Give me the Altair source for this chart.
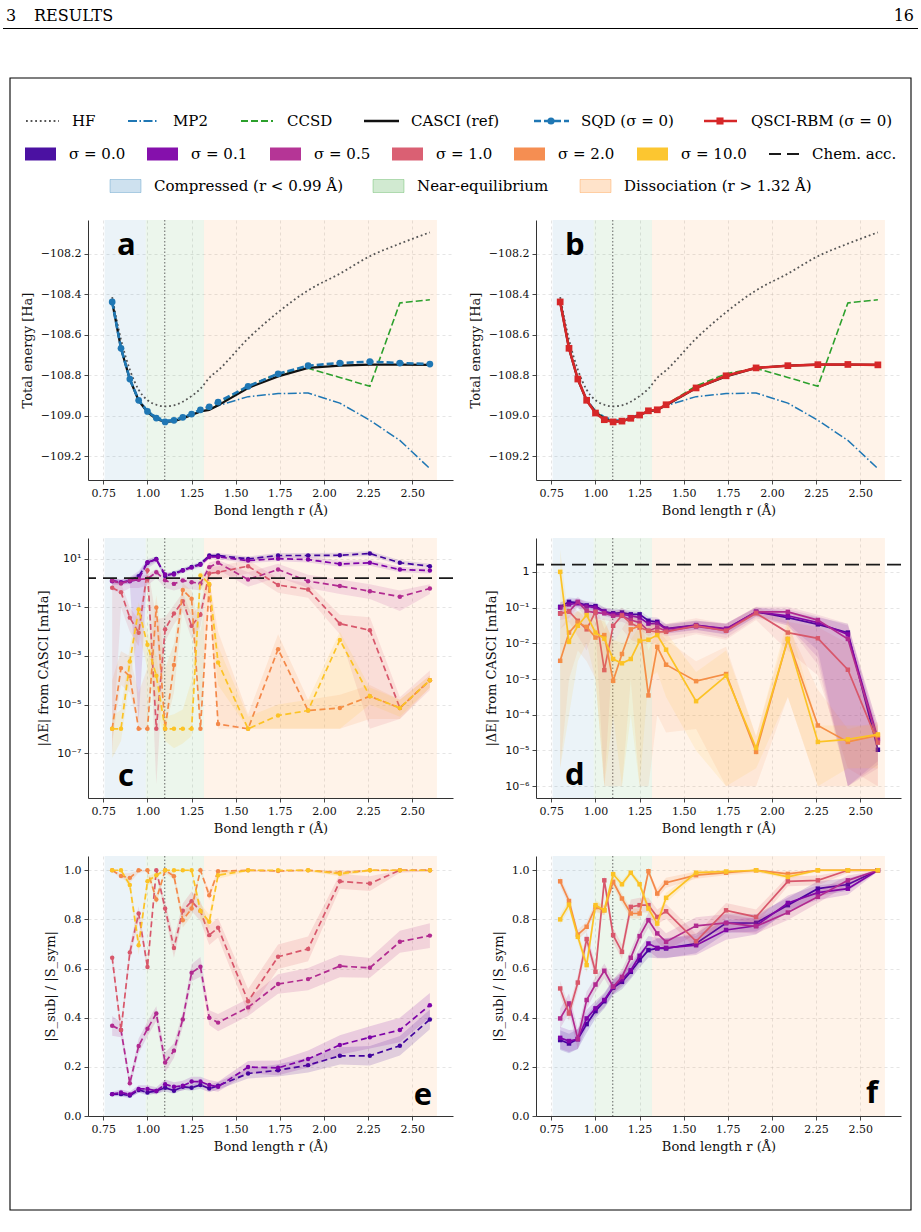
import altair as alt
import pandas as pd

# ---------------------------------------------------------------- data
R = [0.80, 0.85, 0.90, 0.95, 1.00, 1.05, 1.10, 1.15, 1.20, 1.25,
     1.30, 1.35, 1.40, 1.57, 1.74, 1.91, 2.09, 2.26, 2.43, 2.60]

# total energies [Ha]
E_HF = [-108.413, -108.623, -108.772, -108.871, -108.922, -108.945, -108.953, -108.948, -108.930, -108.902,
        -108.866, -108.812, -108.775, -108.618, -108.488, -108.380, -108.297, -108.211, -108.149, -108.093]
E_MP2 = [-108.430, -108.660, -108.815, -108.918, -108.975, -109.005, -109.020, -109.020, -109.007, -108.992,
         -108.978, -108.966, -108.950, -108.905, -108.890, -108.887, -108.937, -109.022, -109.121, -109.261]
E_CCSD = [-108.438, -108.667, -108.819, -108.924, -108.980, -109.012, -109.028, -109.024, -109.010, -108.994,
          -108.978, -108.968, -108.945, -108.852, -108.792, -108.765, -108.810, -108.854, -108.442, -108.426]
E_CASCI = [-108.438, -108.667, -108.820, -108.925, -108.982, -109.015, -109.030, -109.026, -109.013, -108.996,
           -108.978, -108.971, -108.948, -108.862, -108.805, -108.763, -108.752, -108.747, -108.747, -108.748]
E_SQD = [-108.437, -108.666, -108.818, -108.923, -108.978, -109.011, -109.030, -109.022, -109.007, -108.991,
         -108.970, -108.955, -108.932, -108.854, -108.792, -108.752, -108.739, -108.732, -108.739, -108.744]
E_QSCI = [-108.437, -108.666, -108.818, -108.923, -108.986, -109.019, -109.030, -109.026, -109.012, -108.996,
          -108.975, -108.970, -108.945, -108.862, -108.802, -108.763, -108.752, -108.747, -108.746, -108.748]

SIGMAS = ["0.0", "0.1", "0.5", "1.0", "2.0", "10.0"]
SIGMA_COLORS = ["#41049d", "#7e03a8", "#b12a90", "#d8576b", "#f48849", "#fcc325"]
CHEM_ACC = 1.6  # mHa

# SQD error vs CASCI, log10 of |dE| in mHa (mean, lower, upper)
C_MEAN = {
    "0.0": [0.11, 0.02, 0.11, 0.29, 0.84, 1.00, 0.29, 0.40, 0.53, 0.67, 0.79, 1.14, 1.14, 1.00, 1.14, 1.14, 1.15, 1.22, 0.84, 0.70],
    "0.1": [0.08, 0.04, 0.08, 0.15, 0.86, 0.97, 0.36, 0.36, 0.52, 0.64, 0.76, 1.08, 1.08, 0.93, 1.01, 0.97, 0.79, 0.84, 0.56, 0.52],
    "0.5": [0.11, -0.01, 0.11, 0.15, 0.18, 0.45, 0.12, -0.03, 0.11, 0.04, -0.01, 0.66, 0.84, 0.15, 0.56, 0.08, -0.12, -0.33, -0.56, -0.22],
    "1.0": [-0.19, -0.37, -1.42, -2.04, 0.53, -6.0, -1.90, -1.25, -0.74, -1.76, -1.30, 0.40, 0.45, 0.70, -0.08, -0.26, -1.67, -1.94, -5.14, -4.0],
    "2.0": [-6.0, -3.50, -3.84, -6.0, -6.0, -1.00, -6.0, -3.37, -0.28, -0.64, -6.0, -0.08, -5.80, -6.0, -2.72, -5.25, -5.14, -4.66, -5.14, -4.0],
    "10.0": [-6.0, -6.0, -3.23, -1.08, -2.54, -3.81, -6.0, -6.0, -6.0, -6.0, 0.32, -0.03, -3.27, -6.0, -5.45, -5.25, -2.34, -4.66, -5.14, -4.0],
}
C_LOW = {
    "0.0": [0.0, -0.08, 0.0, 0.15, 0.7, 0.9, 0.2, 0.3, 0.45, 0.58, 0.7, 1.05, 1.05, 0.92, 1.05, 1.05, 1.07, 1.12, 0.75, 0.62],
    "0.1": [-0.1, -0.05, -0.05, -5.7, 0.6, 0.85, 0.2, 0.25, 0.42, 0.55, 0.66, 0.98, 0.98, 0.82, 0.9, 0.85, 0.68, 0.72, 0.45, 0.4],
    "0.5": [-0.3, -0.4, -0.2, -0.2, -0.1, 0.2, -0.2, -0.3, -0.2, -0.25, -0.3, 0.4, 0.55, -0.15, 0.25, -0.2, -0.45, -0.65, -1.15, -0.45],
    "1.0": [-7.0, -1.0, -2.0, -2.6, 0.2, -8.3, -2.4, -1.7, -1.2, -2.3, -1.8, 0.1, 0.15, 0.4, -0.4, -0.6, -2.1, -6.0, -5.6, -4.4],
    "2.0": [-6.5, -4.2, -4.5, -6.0, -6.0, -2.0, -6.0, -4.5, -1.0, -1.3, -6.0, -0.6, -6.0, -6.0, -6.0, -6.0, -6.0, -5.6, -5.6, -4.3],
    "10.0": [-7.2, -6.5, -4.0, -2.0, -3.5, -5.0, -6.5, -6.8, -6.6, -6.3, -0.2, -0.6, -4.2, -6.0, -6.0, -6.0, -6.0, -5.0, -5.5, -4.3],
}
C_HIGH = {
    "0.0": [0.2, 0.12, 0.2, 0.42, 0.95, 1.1, 0.38, 0.5, 0.62, 0.76, 0.88, 1.22, 1.24, 1.1, 1.24, 1.24, 1.25, 1.32, 0.94, 0.8],
    "0.1": [0.2, 0.15, 0.25, 0.5, 1.0, 1.1, 0.45, 0.45, 0.6, 0.72, 0.85, 1.18, 1.18, 1.05, 1.12, 1.1, 0.92, 0.95, 0.68, 0.62],
    "0.5": [0.25, 0.15, 0.25, 0.3, 0.35, 0.6, 0.3, 0.15, 0.25, 0.2, 0.15, 0.85, 0.95, 0.45, 0.8, 0.35, 0.15, -0.05, -0.3, -0.05],
    "1.0": [0.1, 0.0, -1.0, -1.5, 0.75, -1.5, -1.4, -0.9, -0.4, -1.3, -0.9, 0.65, 0.7, 0.95, 0.2, 0.0, -1.3, -1.4, -4.7, -3.6],
    "2.0": [-4.0, -2.8, -3.0, -4.5, -3.5, -0.5, -3.5, -2.5, 0.0, -0.3, -2.0, 0.2, -2.0, -5.4, -2.1, -4.8, -4.6, -4.2, -4.8, -3.8],
    "10.0": [-5.5, -5.2, -2.6, -0.8, -2.0, -3.0, -5.5, -5.4, -5.2, -4.0, 0.5, 0.2, -2.6, -5.5, -5.0, -4.8, -2.0, -4.3, -4.8, -3.8],
}

# QSCI-RBM error vs CASCI, log10 of |dE| in mHa (mean, lower, upper)
D_MEAN = {
    "0.0": [-0.98, -0.84, -0.86, -0.94, -0.96, -1.11, -1.16, -1.14, -1.19, -1.19, -1.37, -1.40, -1.59, -1.49, -1.61, -1.12, -1.28, -1.47, -1.70, -4.98],
    "0.1": [-1.00, -0.91, -0.88, -0.97, -1.00, -1.12, -1.19, -1.19, -1.23, -1.28, -1.45, -1.44, -1.60, -1.50, -1.59, -1.12, -1.23, -1.42, -1.75, -4.67],
    "0.5": [-1.16, -1.11, -0.84, -1.10, -1.14, -1.16, -1.23, -1.23, -1.35, -1.42, -1.65, -1.56, -1.65, -1.53, -1.64, -1.12, -1.12, -1.35, -1.88, -4.72],
    "1.0": [-1.17, -1.11, -1.37, -1.61, -1.12, -2.75, -1.51, -1.22, -1.44, -1.56, -1.65, -1.68, -1.68, -1.51, -1.65, -1.16, -1.70, -1.86, -2.74, -4.78],
    "2.0": [-2.49, -1.70, -1.42, -1.54, -1.84, -1.77, -3.05, -2.30, -1.61, -1.51, -3.46, -2.10, -2.60, -3.06, -2.86, -5.04, -1.88, -4.30, -4.76, -4.58],
    "10.0": [0.0, -1.96, -1.51, -1.21, -1.70, -1.87, -2.44, -2.56, -2.44, -1.93, -1.90, -1.77, -2.18, -3.62, -2.91, -4.93, -1.88, -4.76, -4.69, -4.55],
}
D_LOW = {
    "0.0": [-1.12, -0.96, -0.98, -1.06, -1.08, -1.22, -1.27, -1.25, -1.30, -1.30, -1.48, -1.52, -1.72, -1.62, -1.76, -1.24, -1.45, -2.2, -6.0, -5.3],
    "0.1": [-1.14, -1.04, -1.0, -1.1, -1.12, -1.24, -1.3, -1.3, -1.35, -1.4, -1.57, -1.56, -1.73, -1.63, -1.74, -1.25, -1.5, -2.4, -6.0, -5.4],
    "0.5": [-1.35, -1.3, -1.0, -1.3, -1.3, -1.35, -1.4, -1.4, -1.5, -1.6, -1.8, -1.7, -1.8, -1.7, -1.85, -1.3, -1.5, -2.6, -6.0, -5.5],
    "1.0": [-1.6, -1.4, -1.8, -2.2, -1.5, -6.0, -2.0, -1.6, -1.9, -2.0, -2.0, -2.0, -1.95, -1.75, -1.9, -1.35, -2.2, -2.9, -5.5, -6.0],
    "2.0": [-5.5, -3.0, -2.2, -2.5, -3.0, -6.0, -6.0, -6.0, -3.0, -6.0, -6.0, -4.0, -4.5, -4.4, -6.0, -6.0, -3.5, -6.0, -6.0, -6.0],
    "10.0": [-5.5, -4.0, -2.5, -2.0, -3.0, -6.0, -4.0, -6.0, -4.0, -6.0, -3.0, -2.8, -3.5, -5.0, -6.0, -5.5, -3.5, -6.0, -5.5, -5.5],
}
D_HIGH = {
    "0.0": [-0.86, -0.72, -0.74, -0.82, -0.85, -1.0, -1.05, -1.03, -1.08, -1.08, -1.26, -1.28, -1.46, -1.36, -1.46, -1.0, -1.12, -1.28, -1.45, -4.5],
    "0.1": [-0.86, -0.78, -0.76, -0.84, -0.88, -1.0, -1.07, -1.07, -1.1, -1.16, -1.33, -1.32, -1.47, -1.37, -1.44, -1.0, -1.05, -1.25, -1.5, -4.3],
    "0.5": [-0.98, -0.92, -0.7, -0.92, -0.98, -1.0, -1.06, -1.06, -1.2, -1.25, -1.5, -1.4, -1.5, -1.38, -1.45, -0.98, -0.98, -1.2, -1.45, -4.3],
    "1.0": [-0.95, -0.9, -1.1, -1.3, -0.9, -1.6, -1.2, -1.0, -1.2, -1.35, -1.4, -1.45, -1.45, -1.3, -1.45, -0.98, -1.4, -1.55, -2.0, -4.4],
    "2.0": [-1.6, -1.2, -1.1, -1.2, -1.4, -1.3, -2.0, -1.6, -1.2, -1.2, -2.2, -1.6, -1.9, -2.5, -2.1, -4.6, -1.5, -3.3, -4.4, -4.2],
    "10.0": [0.62, -1.4, -1.1, -0.9, -1.3, -1.4, -1.9, -2.0, -1.9, -1.5, -1.5, -1.4, -1.7, -2.8, -2.2, -4.6, -1.3, -4.3, -4.3, -4.3],
}

# sampled subspace fraction |S_sub| / |S_sym| (mean and band half-width)
E_FRAC = {
    "0.0": [0.089, 0.089, 0.083, 0.106, 0.096, 0.102, 0.115, 0.103, 0.119, 0.115, 0.126, 0.112, 0.123, 0.173, 0.186, 0.207, 0.245, 0.245, 0.286, 0.393],
    "0.1": [0.089, 0.096, 0.088, 0.110, 0.110, 0.102, 0.129, 0.119, 0.123, 0.140, 0.140, 0.126, 0.119, 0.199, 0.196, 0.232, 0.289, 0.320, 0.350, 0.451],
    "0.5": [0.367, 0.350, 0.133, 0.285, 0.355, 0.417, 0.218, 0.266, 0.393, 0.583, 0.607, 0.400, 0.380, 0.442, 0.537, 0.557, 0.610, 0.603, 0.709, 0.734],
    "1.0": [0.644, 0.350, 0.665, 0.824, 0.606, 1.000, 0.844, 0.684, 0.835, 0.874, 0.834, 0.736, 0.766, 0.467, 0.648, 0.680, 0.955, 0.946, 1.000, 1.000],
    "2.0": [1.000, 0.977, 0.969, 1.000, 1.000, 0.881, 1.000, 0.976, 0.797, 0.844, 1.000, 0.898, 0.996, 1.000, 0.997, 1.000, 0.990, 1.000, 1.000, 1.000],
    "10.0": [1.000, 1.000, 0.940, 0.695, 0.955, 0.980, 1.000, 1.000, 1.000, 1.000, 0.834, 0.790, 0.980, 1.000, 1.000, 1.000, 0.986, 1.000, 1.000, 1.000],
}
E_SPREAD = {
    "0.0": [0.008, 0.010, 0.010, 0.010, 0.012, 0.010, 0.015, 0.012, 0.012, 0.012, 0.015, 0.015, 0.015, 0.020, 0.025, 0.030, 0.035, 0.040, 0.040, 0.040],
    "0.1": [0.010, 0.012, 0.012, 0.015, 0.015, 0.015, 0.020, 0.018, 0.020, 0.020, 0.020, 0.020, 0.020, 0.025, 0.030, 0.035, 0.040, 0.045, 0.050, 0.050],
    "0.5": [0.040, 0.030, 0.020, 0.030, 0.030, 0.030, 0.040, 0.030, 0.030, 0.035, 0.040, 0.030, 0.035, 0.035, 0.040, 0.045, 0.045, 0.040, 0.045, 0.050],
    "1.0": [0.030, 0.020, 0.030, 0.030, 0.020, 0.010, 0.030, 0.040, 0.030, 0.040, 0.040, 0.040, 0.040, 0.050, 0.050, 0.050, 0.030, 0.030, 0.010, 0.005],
    "2.0": [0.005, 0.010, 0.020, 0.010, 0.005, 0.020, 0.010, 0.015, 0.030, 0.030, 0.005, 0.020, 0.010, 0.005, 0.005, 0.005, 0.010, 0.005, 0.005, 0.005],
    "10.0": [0.005, 0.005, 0.020, 0.040, 0.020, 0.010, 0.005, 0.005, 0.005, 0.005, 0.030, 0.030, 0.015, 0.005, 0.005, 0.005, 0.010, 0.005, 0.005, 0.005],
}
F_FRAC = {
    "0.0": [0.309, 0.295, 0.313, 0.374, 0.427, 0.467, 0.522, 0.546, 0.587, 0.634, 0.675, 0.682, 0.682, 0.702, 0.785, 0.786, 0.858, 0.925, 0.942, 1.000],
    "0.1": [0.318, 0.305, 0.313, 0.397, 0.438, 0.472, 0.526, 0.556, 0.593, 0.652, 0.702, 0.684, 0.684, 0.695, 0.757, 0.774, 0.867, 0.909, 0.925, 1.000],
    "0.5": [0.397, 0.458, 0.313, 0.472, 0.535, 0.591, 0.526, 0.566, 0.644, 0.732, 0.797, 0.743, 0.709, 0.774, 0.786, 0.772, 0.828, 0.892, 0.959, 1.000],
    "1.0": [0.519, 0.417, 0.543, 0.720, 0.587, 0.959, 0.736, 0.668, 0.851, 0.858, 0.858, 0.810, 0.833, 0.711, 0.837, 0.810, 0.955, 0.959, 1.000, 1.000],
    "2.0": [0.955, 0.875, 0.738, 0.770, 0.850, 0.837, 0.953, 0.885, 0.824, 0.824, 0.996, 0.905, 0.949, 0.980, 0.990, 1.000, 0.985, 1.000, 1.000, 1.000],
    "10.0": [0.800, 0.860, 0.729, 0.614, 0.858, 0.837, 0.984, 0.943, 0.990, 0.943, 0.844, 0.783, 0.888, 0.990, 0.995, 1.000, 0.973, 1.000, 1.000, 1.000],
}
F_SPREAD = {
    "0.0": [0.040, 0.040, 0.040, 0.035, 0.030, 0.030, 0.030, 0.030, 0.030, 0.030, 0.030, 0.040, 0.040, 0.040, 0.040, 0.035, 0.030, 0.030, 0.025, 0.005],
    "0.1": [0.045, 0.045, 0.040, 0.035, 0.030, 0.030, 0.030, 0.030, 0.030, 0.030, 0.030, 0.040, 0.040, 0.040, 0.040, 0.035, 0.030, 0.030, 0.025, 0.005],
    "0.5": [0.040, 0.040, 0.040, 0.035, 0.030, 0.030, 0.030, 0.030, 0.030, 0.030, 0.030, 0.035, 0.035, 0.035, 0.035, 0.030, 0.030, 0.025, 0.020, 0.005],
    "1.0": [0.030, 0.030, 0.030, 0.030, 0.030, 0.020, 0.030, 0.030, 0.030, 0.030, 0.030, 0.030, 0.030, 0.030, 0.030, 0.030, 0.020, 0.020, 0.010, 0.005],
    "2.0": [0.020, 0.020, 0.020, 0.020, 0.020, 0.020, 0.020, 0.020, 0.020, 0.020, 0.010, 0.020, 0.020, 0.015, 0.010, 0.010, 0.010, 0.005, 0.005, 0.005],
    "10.0": [0.020, 0.020, 0.020, 0.030, 0.020, 0.020, 0.015, 0.015, 0.010, 0.015, 0.020, 0.020, 0.020, 0.010, 0.010, 0.005, 0.010, 0.005, 0.005, 0.005],
}

REGION_NAMES = ["Compressed (r < 0.99 Å)", "Near-equilibrium", "Dissociation (r > 1.32 Å)"]
REGION_START = [0.757, 0.99, 1.32]
REGION_END = [0.99, 1.32, 2.64]
REGION_COLORS = ["#1f77b4", "#2ca02c", "#ff7f0e"]
R_EQ = 1.098

# ---------------------------------------------------------------- layout
PANEL_W, PANEL_H = 365, 260
LEGEND_H = 159
ROW_GAP, COL_GAP = 58, 83
ORIGIN_X = 88          # page x of the left column's plot area
PAGE_W, PAGE_H = 921, 1232
SERIF = "DejaVu Serif"
SANS = "DejaVu Sans"

X_DOMAIN = [0.663, 2.731]
X_TICKS = [0.75, 1.00, 1.25, 1.50, 1.75, 2.00, 2.25, 2.50]
E_DOMAIN = [-109.317, -108.032]
E_TICKS = [-109.2, -109.0, -108.8, -108.6, -108.4, -108.2]
FRAC_DOMAIN = [0.0, 1.058]
FRAC_TICKS = [0.0, 0.2, 0.4, 0.6, 0.8, 1.0]

SUP = str.maketrans("-0123456789", "⁻⁰¹²³⁴⁵⁶⁷⁸⁹")


def log_label_expr(exps):
    parts = []
    for e in exps:
        txt = "1" if e == 0 else "10" + str(e).translate(SUP)
        parts.append(f"abs(log(datum.value)/LN10 - ({e})) < 0.01 ? '{txt}' : ")
    return "".join(parts) + "''"


def x_enc(field):
    return alt.X(f"{field}:Q",
                 scale=alt.Scale(domain=X_DOMAIN, nice=False, zero=False),
                 axis=alt.Axis(values=X_TICKS, format=".2f", title="Bond length r (Å)"))


def backdrop():
    regions = pd.DataFrame({"r0": REGION_START, "r1": REGION_END, "region": REGION_NAMES})
    shade = alt.Chart(regions).mark_rect(opacity=0.09).encode(
        x=x_enc("r0"), x2="r1:Q",
        color=alt.Color("region:N", scale=alt.Scale(domain=REGION_NAMES, range=REGION_COLORS), legend=None))
    eq = alt.Chart(pd.DataFrame({"r": [R_EQ]})).mark_rule(
        color="#555555", strokeDash=[1.5, 2], strokeWidth=0.9).encode(x=x_enc("r"))
    return [shade, eq]


def panel_letter(letter, x, y, align="left"):
    return alt.Chart(pd.DataFrame({"t": [letter]})).mark_text(
        font="Open Sans", fontWeight="bold", fontSize=31, align=align, baseline="alphabetic",
        color="black").encode(x=alt.value(x), y=alt.value(y), text="t:N")


def energy_panel(letter, method):
    df = pd.DataFrame({"r": R, "HF": E_HF, "MP2": E_MP2, "CCSD": E_CCSD,
                       "CASCI": E_CASCI, "SQD": E_SQD, "QSCI": E_QSCI})

    def y(f):
        return alt.Y(f"{f}:Q", scale=alt.Scale(domain=E_DOMAIN, nice=False, zero=False),
                     axis=alt.Axis(values=E_TICKS, format=".1f", title="Total energy [Ha]"))

    base = alt.Chart(df)
    layers = backdrop() + [
        base.mark_line(color="#555555", strokeDash=[1.8, 2.8], strokeWidth=1.8,
                       interpolate="monotone").encode(x=x_enc("r"), y=y("HF")),
        base.mark_line(color="#1f77b4", strokeDash=[9, 2.5, 1.5, 2.5], strokeWidth=1.5).encode(
            x=x_enc("r"), y=y("MP2")),
        base.mark_line(color="#2ca02c", strokeDash=[7, 3], strokeWidth=1.6).encode(
            x=x_enc("r"), y=y("CCSD")),
        base.mark_line(color="#111111", strokeWidth=2.2).encode(x=x_enc("r"), y=y("CASCI")),
    ]
    if method == "SQD":
        layers.append(base.mark_line(
            color="#1f77b4", strokeDash=[7, 3], strokeWidth=2.6,
            point=alt.OverlayMarkDef(filled=True, size=45, color="#1f77b4", opacity=1)).encode(
            x=x_enc("r"), y=y("SQD")))
    else:
        layers.append(base.mark_line(
            color="#d62728", strokeWidth=2.6,
            point=alt.OverlayMarkDef(filled=True, size=45, shape="square", color="#d62728", opacity=1)).encode(
            x=x_enc("r"), y=y("QSCI")))
    layers.append(panel_letter(letter, 29, 35))
    return alt.layer(*layers).properties(width=PANEL_W, height=PANEL_H)


def sigma_frame(key, mean, low, high, log):
    if log:
        return pd.DataFrame({"r": R,
                             "v": [10 ** m for m in mean[key]],
                             "lo": [10 ** m for m in low[key]],
                             "hi": [10 ** m for m in high[key]]})
    return pd.DataFrame({"r": R, "v": mean[key],
                         "lo": [m - w for m, w in zip(mean[key], low[key])],
                         "hi": [min(m + w, 1.0) for m, w in zip(mean[key], low[key])]})


def sigma_panel(mean, low, high, y_enc, dashed, shape, band_opacity, extra, letter):
    layers = backdrop()
    log = high is not None
    for key, color in zip(SIGMAS, SIGMA_COLORS):
        df = sigma_frame(key, mean, low, high if log else None, log)
        base = alt.Chart(df)
        layers.append(base.mark_area(color=color, opacity=band_opacity).encode(
            x=x_enc("r"), y=y_enc("lo"), y2="hi:Q"))
        line_kw = dict(color=color, strokeWidth=1.7,
                       point=alt.OverlayMarkDef(filled=True, size=20, shape=shape, color=color, opacity=1))
        if dashed:
            line_kw["strokeDash"] = [6, 3.5]
        layers.append(base.mark_line(**line_kw).encode(x=x_enc("r"), y=y_enc("v")))
    layers += extra
    layers.append(letter)
    return alt.layer(*layers).properties(width=PANEL_W, height=PANEL_H)


def log_y(domain_exp, exps):
    def enc(f):
        return alt.Y(f"{f}:Q",
                     scale=alt.Scale(type="log", domain=[10 ** domain_exp[0], 10 ** domain_exp[1]], nice=False),
                     axis=alt.Axis(values=[10 ** e for e in exps], labelExpr=log_label_expr(exps),
                                   labelFont=SANS, labelFontSize=11, title="|ΔE| from CASCI [mHa]"))
    return enc


def frac_y(f):
    return alt.Y(f"{f}:Q", scale=alt.Scale(domain=FRAC_DOMAIN, nice=False, zero=False),
                 axis=alt.Axis(values=FRAC_TICKS, format=".1f", title="|S_sub| / |S_sym|"))


def chem_acc(y_enc):
    return alt.Chart(pd.DataFrame({"v": [CHEM_ACC]})).mark_rule(
        color="#1a1a1a", strokeDash=[14, 7], strokeWidth=1.8).encode(y=y_enc("v"))


c_y = log_y([-8.85, 1.86], [-7, -5, -3, -1, 1])
d_y = log_y([-6.33, 0.947], [-6, -5, -4, -3, -2, -1, 0])

panel_a = energy_panel("a", "SQD")
panel_b = energy_panel("b", "QSCI")
panel_c = sigma_panel(C_MEAN, C_LOW, C_HIGH, c_y, True, "circle", 0.13,
                      [chem_acc(c_y)], panel_letter("c", 30, 248))
panel_d = sigma_panel(D_MEAN, D_LOW, D_HIGH, d_y, False, "square", 0.11,
                      [chem_acc(d_y)], panel_letter("d", 29, 247))
panel_e = sigma_panel(E_FRAC, E_SPREAD, None, frac_y, True, "circle", 0.16,
                      [], panel_letter("e", 344, 249, "right"))
panel_f = sigma_panel(F_FRAC, F_SPREAD, None, frac_y, False, "square", 0.16,
                      [], panel_letter("f", 342, 247, "right"))

# ---------------------------------------------------------------- page furniture + legend
def px(v):
    return v - ORIGIN_X


PX = dict(scale=None, axis=None)


def seg(x0, x1, y, **style):
    df = pd.DataFrame({"x0": [px(x0)], "x1": [px(x1)], "y": [y]})
    return alt.Chart(df).mark_rule(**style).encode(
        x=alt.X("x0:Q", **PX), x2="x1:Q", y=alt.Y("y:Q", **PX))


def box(x0, x1, y0, y1, **style):
    df = pd.DataFrame({"x0": [px(x0)], "x1": [px(x1)], "y0": [y0], "y1": [y1]})
    return alt.Chart(df).mark_rect(**style).encode(
        x=alt.X("x0:Q", **PX), x2="x1:Q", y=alt.Y("y0:Q", **PX), y2="y1:Q")


def label(x, y, text, size=15, align="left"):
    df = pd.DataFrame({"x": [px(x)], "y": [y], "t": [text]})
    return alt.Chart(df).mark_text(align=align, baseline="middle", font=SERIF, fontSize=size,
                                   color="black").encode(
        x=alt.X("x:Q", **PX), y=alt.Y("y:Q", **PX), text="t:N")


def marker(x, y, shape, color, size):
    df = pd.DataFrame({"x": [px(x)], "y": [y]})
    return alt.Chart(df).mark_point(shape=shape, filled=True, color=color, size=size, opacity=1).encode(
        x=alt.X("x:Q", **PX), y=alt.Y("y:Q", **PX))


ROW1, ROW2, ROW3 = 118, 151, 183
furniture = [
    box(0, PAGE_W, 0, PAGE_H, fill="white"),
    label(6, 13, "3", size=16),
    label(34, 13, "RESULTS", size=16),
    label(914, 13, "16", size=16, align="right"),
    seg(3, 918, 25.5, color="black", strokeWidth=1),
    box(10, 911, 75, 1207, fill=None, stroke="black", strokeWidth=1.1, filled=False),
    # methods
    seg(26, 59, ROW1, color="#555555", strokeDash=[1.8, 2.8], strokeWidth=2),
    label(72, ROW1, "HF"),
    seg(128, 159, ROW1, color="#1f77b4", strokeDash=[9, 2.5, 1.5, 2.5], strokeWidth=2),
    label(173, ROW1, "MP2"),
    seg(241, 273, ROW1, color="#2ca02c", strokeDash=[7, 3], strokeWidth=2),
    label(287, ROW1, "CCSD"),
    seg(364, 399, ROW1, color="#111111", strokeWidth=2.6),
    label(411, ROW1, "CASCI (ref)"),
    seg(534, 569, ROW1, color="#1f77b4", strokeDash=[7, 3], strokeWidth=2.6),
    marker(551, ROW1, "circle", "#1f77b4", 50),
    label(581, ROW1, "SQD (σ = 0)"),
    seg(704, 737, ROW1, color="#d62728", strokeWidth=2.6),
    marker(720, ROW1, "square", "#d62728", 50),
    label(751, ROW1, "QSCI-RBM (σ = 0)"),
    # chemical accuracy
    seg(769, 800, ROW2, color="#1a1a1a", strokeDash=[12, 6], strokeWidth=2),
    label(812, ROW2, "Chem. acc."),
]
for x0, key, color in zip([25, 147, 270, 392, 514, 637], SIGMAS, SIGMA_COLORS):
    furniture.append(box(x0, x0 + 31, ROW2 - 6.5, ROW2 + 6.5, fill=color, opacity=0.95))
    furniture.append(label(x0 + 44, ROW2, f"σ = {key}"))
for x0, name, color in zip([110, 373, 580], REGION_NAMES, REGION_COLORS):
    furniture.append(box(x0, x0 + 31, ROW3 - 6.5, ROW3 + 6.5, fill=color, fillOpacity=0.22,
                         stroke=color, strokeOpacity=0.3, strokeWidth=1))
    furniture.append(label(x0 + 44, ROW3, name))

legend_cell = alt.layer(*furniture).properties(width=PANEL_W, height=LEGEND_H)
spacer = alt.Chart(pd.DataFrame({"a": [0]})).mark_point(opacity=0).encode(
    x=alt.value(0), y=alt.value(0)).properties(width=PANEL_W, height=LEGEND_H)

chart = alt.concat(
    legend_cell, spacer, panel_a, panel_b, panel_c, panel_d, panel_e, panel_f,
    columns=2, spacing={"row": ROW_GAP, "column": COL_GAP}, bounds="flush",
).properties(
    padding=0, background="white"
).configure_view(
    stroke=None
).configure_axis(
    labelFont=SERIF, labelFontSize=11, labelColor="#111111",
    titleFont=SERIF, titleFontSize=13, titleFontWeight="normal", titleColor="#111111",
    domainColor="#333333", domainWidth=1, tickColor="#333333", tickSize=4, tickWidth=0.9,
    labelPadding=3, titlePadding=6,
    gridColor="#c8c8c8", gridDash=[3, 3], gridWidth=0.6, gridOpacity=0.8,
)

chart.save("out.html", embed_options={"renderer": "svg", "actions": False})
